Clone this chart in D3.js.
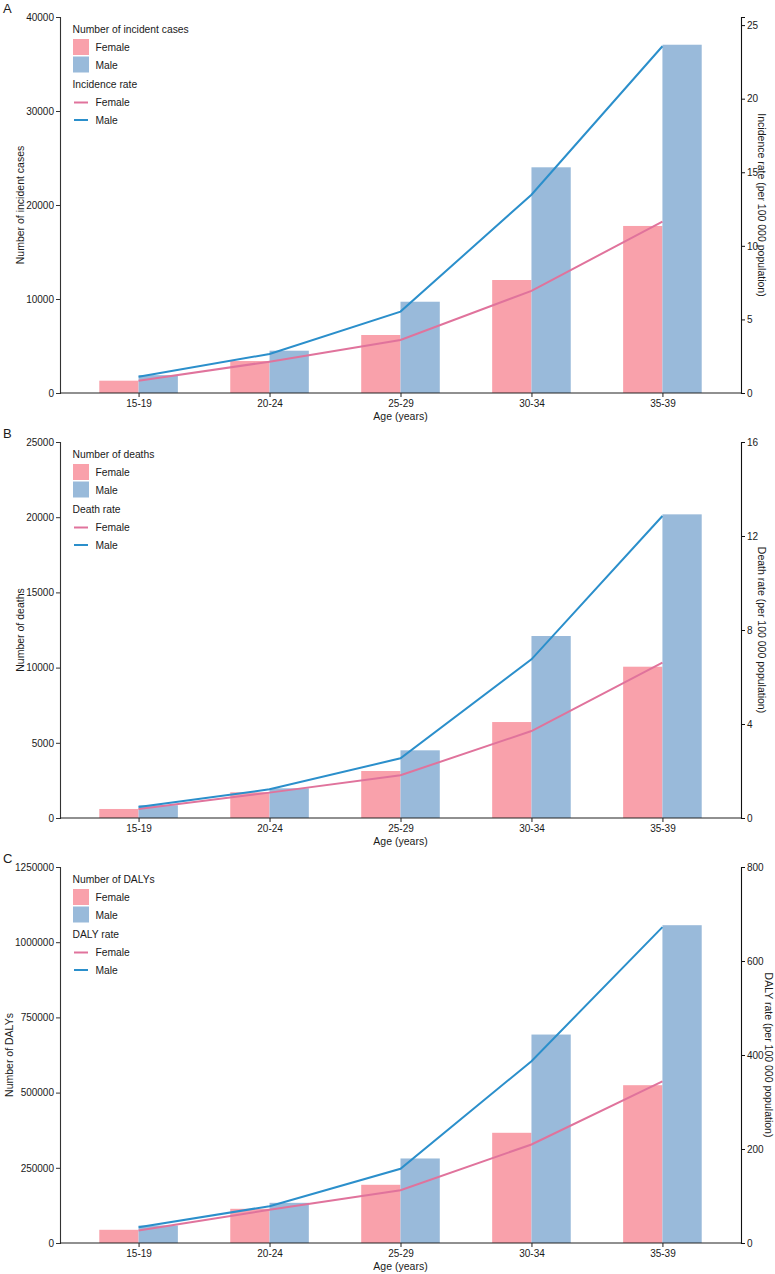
<!DOCTYPE html>
<html>
<head>
<meta charset="utf-8">
<script src="https://cdn.jsdelivr.net/npm/d3@7"></script>
<style>
  html, body { margin: 0; padding: 0; background: #fff; }
  svg { display: block; font-family: "Liberation Sans", Arial, sans-serif; }
</style>
</head>
<body>
<svg id="chart" width="775" height="1274"></svg>
<script>
// ---- Data ----
const ageGroups = ["15-19", "20-24", "25-29", "30-34", "35-39"];

// Panel A: incidence
const incCasesFemale = [1310, 3400, 6170, 12020, 17770];
const incCasesMale   = [1900, 4500, 9710, 24010, 37050];
const incRateFemale  = [0.84, 2.13, 3.60, 6.94, 11.65];
const incRateMale    = [1.11, 2.65, 5.53, 13.47, 23.56];
const incLeftTicks   = [0, 10000, 20000, 30000, 40000];
const incRightTicks  = [0, 5, 10, 15, 20, 25];

// Panel B: deaths
const deathsFemale   = [600, 1710, 3125, 6380, 10060];
const deathsMale     = [850, 1975, 4500, 12100, 20190];
const deathRateFemale = [0.38, 1.08, 1.82, 3.70, 6.61];
const deathRateMale   = [0.47, 1.22, 2.54, 6.75, 12.85];
const deathLeftTicks  = [0, 5000, 10000, 15000, 20000, 25000];
const deathRightTicks = [0, 4, 8, 12, 16];

// Panel C: DALYs
const dalysFemale    = [43900, 113700, 193500, 366400, 524600];
const dalysMale      = [58200, 133600, 281000, 693000, 1056500];
const dalyRateFemale = [26.6, 70.6, 112.3, 209.6, 344];
const dalyRateMale   = [33.6, 78.3, 158, 386.8, 672];
const dalyLeftTicks  = [0, 250000, 500000, 750000, 1000000, 1250000];
const dalyRightTicks = [0, 200, 400, 600, 800];

const panels = [
  { label: "A", top: 17, leftMax: 40000, rightMax: 25.55,
    cf: incCasesFemale, cm: incCasesMale, rf: incRateFemale, rm: incRateMale,
    lt: incLeftTicks, rt: incRightTicks,
    leftTitle: "Number of incident cases", rightTitle: "Incidence rate (per 100 000 population)",
    legBar: "Number of incident cases", legLine: "Incidence rate",
    lTitleX: 23.5, rTitleX: 758 },
  { label: "B", top: 442, leftMax: 25000, rightMax: 16,
    cf: deathsFemale, cm: deathsMale, rf: deathRateFemale, rm: deathRateMale,
    lt: deathLeftTicks, rt: deathRightTicks,
    leftTitle: "Number of deaths", rightTitle: "Death rate (per 100 000 population)",
    legBar: "Number of deaths", legLine: "Death rate",
    lTitleX: 23.5, rTitleX: 758 },
  { label: "C", top: 867, leftMax: 1250000, rightMax: 800,
    cf: dalysFemale, cm: dalysMale, rf: dalyRateFemale, rm: dalyRateMale,
    lt: dalyLeftTicks, rt: dalyRightTicks,
    leftTitle: "Number of DALYs", rightTitle: "DALY rate (per 100 000 population)",
    legBar: "Number of DALYs", legLine: "DALY rate",
    lTitleX: 12.5, rTitleX: 765 }
];

const colBarF = "#F9A1AB", colBarM = "#99BADA";
const colLineF = "#E0739C", colLineM = "#2B8FCB";
const textCol = "#1a1a1a";
const x0 = 60, x1 = 741, plotH = 376;
const tickFont = "10px", titleFont = "10.5px", legFont = "10.3px";

const svg = d3.select("#chart");

panels.forEach(p => {
  const yTop = p.top, yBot = p.top + plotH;
  const g = svg.append("g");

  const x = d3.scalePoint().domain(ageGroups).range([x0, x1]).padding(0.6);
  const step = x.step();
  const bw = step * 0.3;
  const yL = d3.scaleLinear().domain([0, p.leftMax]).range([yBot, yTop]);
  const yR = d3.scaleLinear().domain([0, p.rightMax]).range([yBot, yTop]);

  // bars
  g.selectAll(".bf").data(p.cf).enter().append("rect")
    .attr("x", (d, i) => x(ageGroups[i]) - bw)
    .attr("width", bw)
    .attr("y", d => yL(d))
    .attr("height", d => yBot - yL(d))
    .attr("fill", colBarF);
  g.selectAll(".bm").data(p.cm).enter().append("rect")
    .attr("x", (d, i) => x(ageGroups[i]))
    .attr("width", bw)
    .attr("y", d => yL(d))
    .attr("height", d => yBot - yL(d))
    .attr("fill", colBarM);

  // lines
  const line = d3.line().x((d, i) => x(ageGroups[i])).y(d => yR(d));
  g.append("path").datum(p.rf).attr("d", line)
    .attr("fill", "none").attr("stroke", colLineF).attr("stroke-width", 2);
  g.append("path").datum(p.rm).attr("d", line)
    .attr("fill", "none").attr("stroke", colLineM).attr("stroke-width", 2);

  // axes
  const styleAxis = (sel, col) => {
    sel.selectAll("path").attr("stroke", col).attr("stroke-width", 1.1);
    sel.selectAll("line").attr("stroke", col);
    sel.selectAll("text").attr("fill", textCol).style("font-size", tickFont)
      .style("font-family", "'Liberation Sans', Arial, sans-serif");
  };
  const axL = g.append("g").attr("transform", `translate(${x0},0)`)
    .call(d3.axisLeft(yL).tickValues(p.lt).tickFormat(d3.format("d")).tickSizeOuter(0).tickSize(4).tickPadding(2));
  styleAxis(axL, "#333");
  const axR = g.append("g").attr("transform", `translate(${x1},0)`)
    .call(d3.axisRight(yR).tickValues(p.rt).tickFormat(d3.format("d")).tickSizeOuter(0).tickSize(4).tickPadding(2));
  styleAxis(axR, "#111");
  const axB = g.append("g").attr("transform", `translate(0,${yBot})`)
    .call(d3.axisBottom(x).tickSizeOuter(0).tickSize(4).tickPadding(3));
  axB.select("path").attr("d", `M${x0},0H${x1}`);
  styleAxis(axB, "#222");

  // titles
  g.append("text").attr("x", 400.5).attr("y", yBot + 27)
    .attr("text-anchor", "middle").attr("fill", textCol).style("font-size", titleFont)
    .text("Age (years)");
  g.append("text")
    .attr("transform", `translate(${p.lTitleX},${(yTop + yBot) / 2}) rotate(-90)`)
    .attr("text-anchor", "middle").attr("fill", textCol).style("font-size", titleFont)
    .text(p.leftTitle);
  g.append("text")
    .attr("transform", `translate(${p.rTitleX},${(yTop + yBot) / 2}) rotate(90)`)
    .attr("text-anchor", "middle").attr("fill", textCol).style("font-size", titleFont)
    .text(p.rightTitle);

  // panel label
  g.append("text").attr("x", 3).attr("y", yTop - 4.3)
    .attr("fill", textCol).style("font-size", "13px").text(p.label);

  // legend
  const lx = 73, ly = yTop;
  const leg = g.append("g");
  const tstyle = s => s.attr("fill", textCol).style("font-size", legFont).attr("dominant-baseline", "central");
  tstyle(leg.append("text").attr("x", lx - 0.5).attr("y", ly + 12).text(p.legBar));
  leg.append("rect").attr("x", lx).attr("y", ly + 22).attr("width", 16).attr("height", 16).attr("fill", colBarF);
  leg.append("rect").attr("x", lx).attr("y", ly + 39.5).attr("width", 16).attr("height", 16).attr("fill", colBarM);
  tstyle(leg.append("text").attr("x", lx + 22.5).attr("y", ly + 30).text("Female"));
  tstyle(leg.append("text").attr("x", lx + 22.5).attr("y", ly + 48).text("Male"));
  tstyle(leg.append("text").attr("x", lx - 0.5).attr("y", ly + 67.5).text(p.legLine));
  leg.append("line").attr("x1", lx + 1).attr("x2", lx + 15).attr("y1", ly + 85.5).attr("y2", ly + 85.5)
    .attr("stroke", colLineF).attr("stroke-width", 2);
  leg.append("line").attr("x1", lx + 1).attr("x2", lx + 15).attr("y1", ly + 103).attr("y2", ly + 103)
    .attr("stroke", colLineM).attr("stroke-width", 2);
  tstyle(leg.append("text").attr("x", lx + 22.5).attr("y", ly + 85.5).text("Female"));
  tstyle(leg.append("text").attr("x", lx + 22.5).attr("y", ly + 103).text("Male"));
});
</script>
</body>
</html>
